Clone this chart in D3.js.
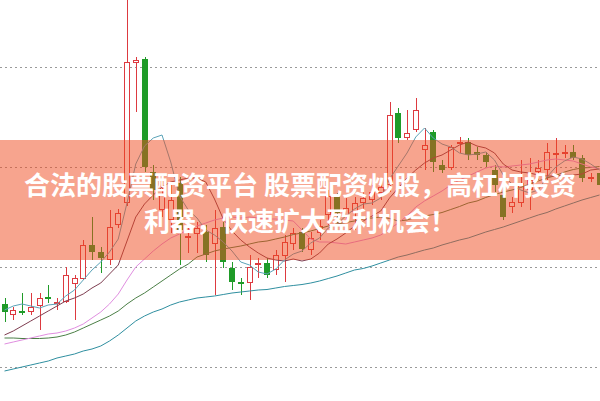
<!DOCTYPE html>
<html><head><meta charset="utf-8">
<script src="https://cdn.jsdelivr.net/npm/d3@7"></script>
<style>html,body{margin:0;padding:0;background:#fff;overflow:hidden}svg{display:block}</style>
</head><body><div id="chart"></div>
<script>
// ---- data (prices) ----
const days = d3.range(1, 70).map(d => "D" + d);
const open = [10.63,10.52,10.56,10.55,10.61,10.70,10.63,10.65,10.83,10.88,11.22,11.15,11.07,11.42,11.64,13.04,13.08,11.95,11.57,11.47,11.84,11.29,11.33,11.35,11.23,11.40,10.99,10.85,10.84,11.02,11.04,10.97,11.11,11.23,11.35,11.17,11.34,11.52,11.70,11.52,11.55,11.64,11.67,11.74,11.82,12.54,12.29,12.37,12.17,12.35,12.02,11.99,12.23,12.25,12.15,12.12,11.97,11.72,11.60,11.64,11.77,11.95,11.97,12.12,12.14,12.15,12.09,11.89,11.94];
const high = [10.69,10.60,10.74,10.74,10.74,10.82,10.69,11.00,10.92,11.27,11.50,11.20,11.57,11.58,13.77,13.10,13.10,12.02,11.87,11.84,11.90,11.39,11.45,11.42,11.57,11.45,11.05,10.89,11.12,11.09,11.09,11.17,11.32,11.39,11.39,11.35,11.47,11.77,11.74,11.69,11.70,11.75,11.82,11.85,12.65,12.59,12.57,12.69,12.39,12.37,12.07,12.22,12.30,12.29,12.20,12.15,12.02,11.80,11.70,12.07,12.09,12.07,12.24,12.29,12.22,12.22,12.12,11.94,11.99];
const low = [10.45,10.47,10.52,10.52,10.37,10.64,10.57,10.64,10.47,10.87,11.07,10.94,11.02,11.39,11.61,12.55,11.95,11.67,11.50,11.34,11.02,11.14,11.14,11.05,10.72,10.99,10.77,10.72,10.67,10.89,10.89,10.92,10.85,11.17,11.15,11.12,11.27,11.42,11.44,11.45,11.37,11.57,11.62,11.67,11.75,12.24,12.27,12.35,11.97,11.95,11.94,11.97,12.14,12.07,12.07,12.00,11.75,11.47,11.54,11.60,11.57,11.87,11.87,11.94,12.09,12.07,11.85,11.85,11.77];
const close = [10.55,10.57,10.54,10.60,10.69,10.68,10.65,10.92,10.89,11.22,11.15,11.09,11.40,11.54,13.05,13.07,12.00,11.77,11.72,11.67,11.37,11.31,11.39,11.12,11.39,11.05,10.85,10.83,11.00,11.04,10.92,11.12,11.25,11.34,11.18,11.29,11.41,11.71,11.54,11.59,11.64,11.69,11.75,11.80,12.52,12.29,12.34,12.57,12.22,12.05,11.97,12.20,12.25,12.12,12.12,12.05,11.82,11.50,11.65,11.84,11.87,11.99,12.15,12.14,12.15,12.09,11.89,11.90,11.82];
const ma5 = [10.57,10.61,10.63,10.61,10.59,10.62,10.63,10.71,10.77,10.87,10.97,11.05,11.15,11.28,11.64,12.03,12.21,12.29,12.32,12.05,11.71,11.57,11.49,11.37,11.32,11.25,11.16,11.05,11.02,10.95,10.93,10.98,11.07,11.13,11.16,11.24,11.29,11.39,11.43,11.51,11.58,11.63,11.64,11.69,11.88,12.01,12.14,12.30,12.39,12.29,12.23,12.20,12.14,12.12,12.13,12.15,12.07,11.92,11.83,11.77,11.74,11.77,11.90,12.00,12.06,12.10,12.08,12.03,11.97];
const ma10 = [10.32,10.36,10.41,10.46,10.51,10.56,10.61,10.66,10.69,10.73,10.79,10.84,10.93,11.02,11.26,11.50,11.63,11.72,11.80,11.85,11.87,11.89,11.89,11.85,11.68,11.48,11.36,11.27,11.20,11.14,11.09,11.07,11.06,11.08,11.06,11.08,11.14,11.23,11.28,11.34,11.41,11.46,11.51,11.56,11.69,11.79,11.89,11.97,12.04,12.09,12.12,12.17,12.22,12.25,12.21,12.19,12.14,12.03,11.97,11.95,11.94,11.92,11.91,11.91,11.92,11.92,11.93,11.97,11.98];
const ma20 = [10.23,10.25,10.27,10.29,10.31,10.33,10.34,10.36,10.39,10.43,10.49,10.55,10.63,10.73,10.87,11.00,11.08,11.16,11.23,11.29,11.33,11.37,11.41,11.44,11.47,11.49,11.50,11.49,11.50,11.49,11.48,11.48,11.47,11.46,11.37,11.28,11.25,11.25,11.24,11.23,11.25,11.27,11.29,11.32,11.38,11.44,11.51,11.60,11.66,11.71,11.76,11.82,11.87,11.91,11.95,11.99,12.01,12.00,12.01,12.02,12.03,12.05,12.07,12.08,12.07,12.06,12.03,12.00,11.98];
const ma30 = [10.29,10.29,10.285,10.285,10.285,10.29,10.30,10.32,10.35,10.39,10.43,10.47,10.51,10.56,10.63,10.69,10.74,10.80,10.86,10.92,10.98,11.03,11.10,11.13,11.16,11.18,11.195,11.21,11.23,11.25,11.26,11.28,11.30,11.325,11.34,11.36,11.385,11.41,11.43,11.445,11.46,11.48,11.49,11.50,11.485,11.46,11.47,11.495,11.51,11.525,11.545,11.575,11.605,11.64,11.66,11.695,11.725,11.75,11.77,11.795,11.83,11.86,11.89,11.915,11.95,11.975,11.99,11.995,12.005];
const ma60 = [9.96,9.98,10.00,10.02,10.04,10.06,10.09,10.11,10.13,10.16,10.18,10.21,10.26,10.32,10.39,10.46,10.51,10.55,10.58,10.62,10.65,10.67,10.69,10.70,10.71,10.725,10.74,10.75,10.76,10.77,10.775,10.79,10.805,10.815,10.825,10.84,10.86,10.885,10.91,10.94,10.97,10.985,11.01,11.04,11.07,11.10,11.12,11.145,11.17,11.19,11.22,11.245,11.27,11.29,11.32,11.35,11.375,11.40,11.43,11.46,11.49,11.52,11.545,11.58,11.61,11.64,11.67,11.695,11.72];
const gridLevels = [10, 11, 12, 13];
const bannerLines = ["合法的股票配资平台 股票配资炒股，高杠杆投资", "利器，快速扩大盈利机会！"];

// ---- drawing ----
const W = 600, H = 401;
const svg = d3.select("#chart").append("svg").attr("width", W).attr("height", H);
const x = d3.scaleBand().domain(days).range([0.125, 603.875]).padding(0);
const y = d3.scaleLinear().domain([9.66, 13.67]).range([H, 0]);
const bw = x.bandwidth();
const cx = i => Math.round(x(days[i]) + bw / 2) + 0.5;
const RED = "#dd3a40", GREEN = "#1f9b28";
const bodyW = 6;

// grid
svg.append("g").selectAll("line").data(gridLevels).join("line")
  .attr("x1", 0).attr("x2", W)
  .attr("y1", d => Math.round(y(d)) + 0.5).attr("y2", d => Math.round(y(d)) + 0.5)
  .attr("stroke", "#9a9a9a").attr("stroke-width", 1).attr("stroke-dasharray", "2,3");

// candles
const candles = days.map((d, i) => ({ i, o: open[i], h: high[i], l: low[i], c: close[i], up: close[i] >= open[i] }));
const g = svg.append("g").attr("shape-rendering", "crispEdges");
candles.forEach(k => {
  const col = k.up ? RED : GREEN;
  const top = Math.round(y(Math.max(k.o, k.c)));
  const bot = Math.round(y(Math.min(k.o, k.c)));
  const xc = cx(k.i);
  g.append("line").attr("x1", xc).attr("x2", xc)
    .attr("y1", y(k.h)).attr("y2", y(k.l)).attr("stroke", col).attr("stroke-width", 1);
  const hgt = Math.max(1, bot - top);
  if (k.up) {
    g.append("rect").attr("x", xc - bodyW / 2).attr("y", top + 0.5)
      .attr("width", bodyW - 1).attr("height", Math.max(1, hgt - 1))
      .attr("fill", "#fff").attr("stroke", col).attr("stroke-width", 1);
  } else {
    g.append("rect").attr("x", xc - bodyW / 2 - 0.5).attr("y", top)
      .attr("width", bodyW).attr("height", Math.max(2, hgt))
      .attr("fill", col);
  }
});

// moving averages
const maSeries = [
  { v: ma60, c: "#2f8fa0" },
  { v: ma30, c: "#4b7f46" },
  { v: ma20, c: "#e08ee0" },
  { v: ma10, c: "#7e3d50" },
  { v: ma5, c: "#5aa3b8" }
];
const line = d3.line().x((d, i) => x(days[i]) + bw / 2).y(d => y(d));
svg.append("g").selectAll("path").data(maSeries).join("path")
  .attr("d", s => line(s.v)).attr("fill", "none")
  .attr("stroke", s => s.c).attr("stroke-width", 1);

// banner overlay
svg.append("rect").attr("x", 0).attr("y", 140).attr("width", W).attr("height", 120)
  .attr("fill", "#f04a1e").attr("fill-opacity", 0.5);
svg.append("g").selectAll("text").data(bannerLines).join("text")
  .attr("x", 300).attr("y", (d, i) => 183 + i * 36)
  .attr("text-anchor", "middle").attr("dominant-baseline", "central")
  .attr("fill", "#fff").attr("font-family", "'Noto Sans CJK SC', sans-serif")
  .attr("font-weight", "bold").attr("font-size", 26)
  .text(d => d);
</script></body></html>
